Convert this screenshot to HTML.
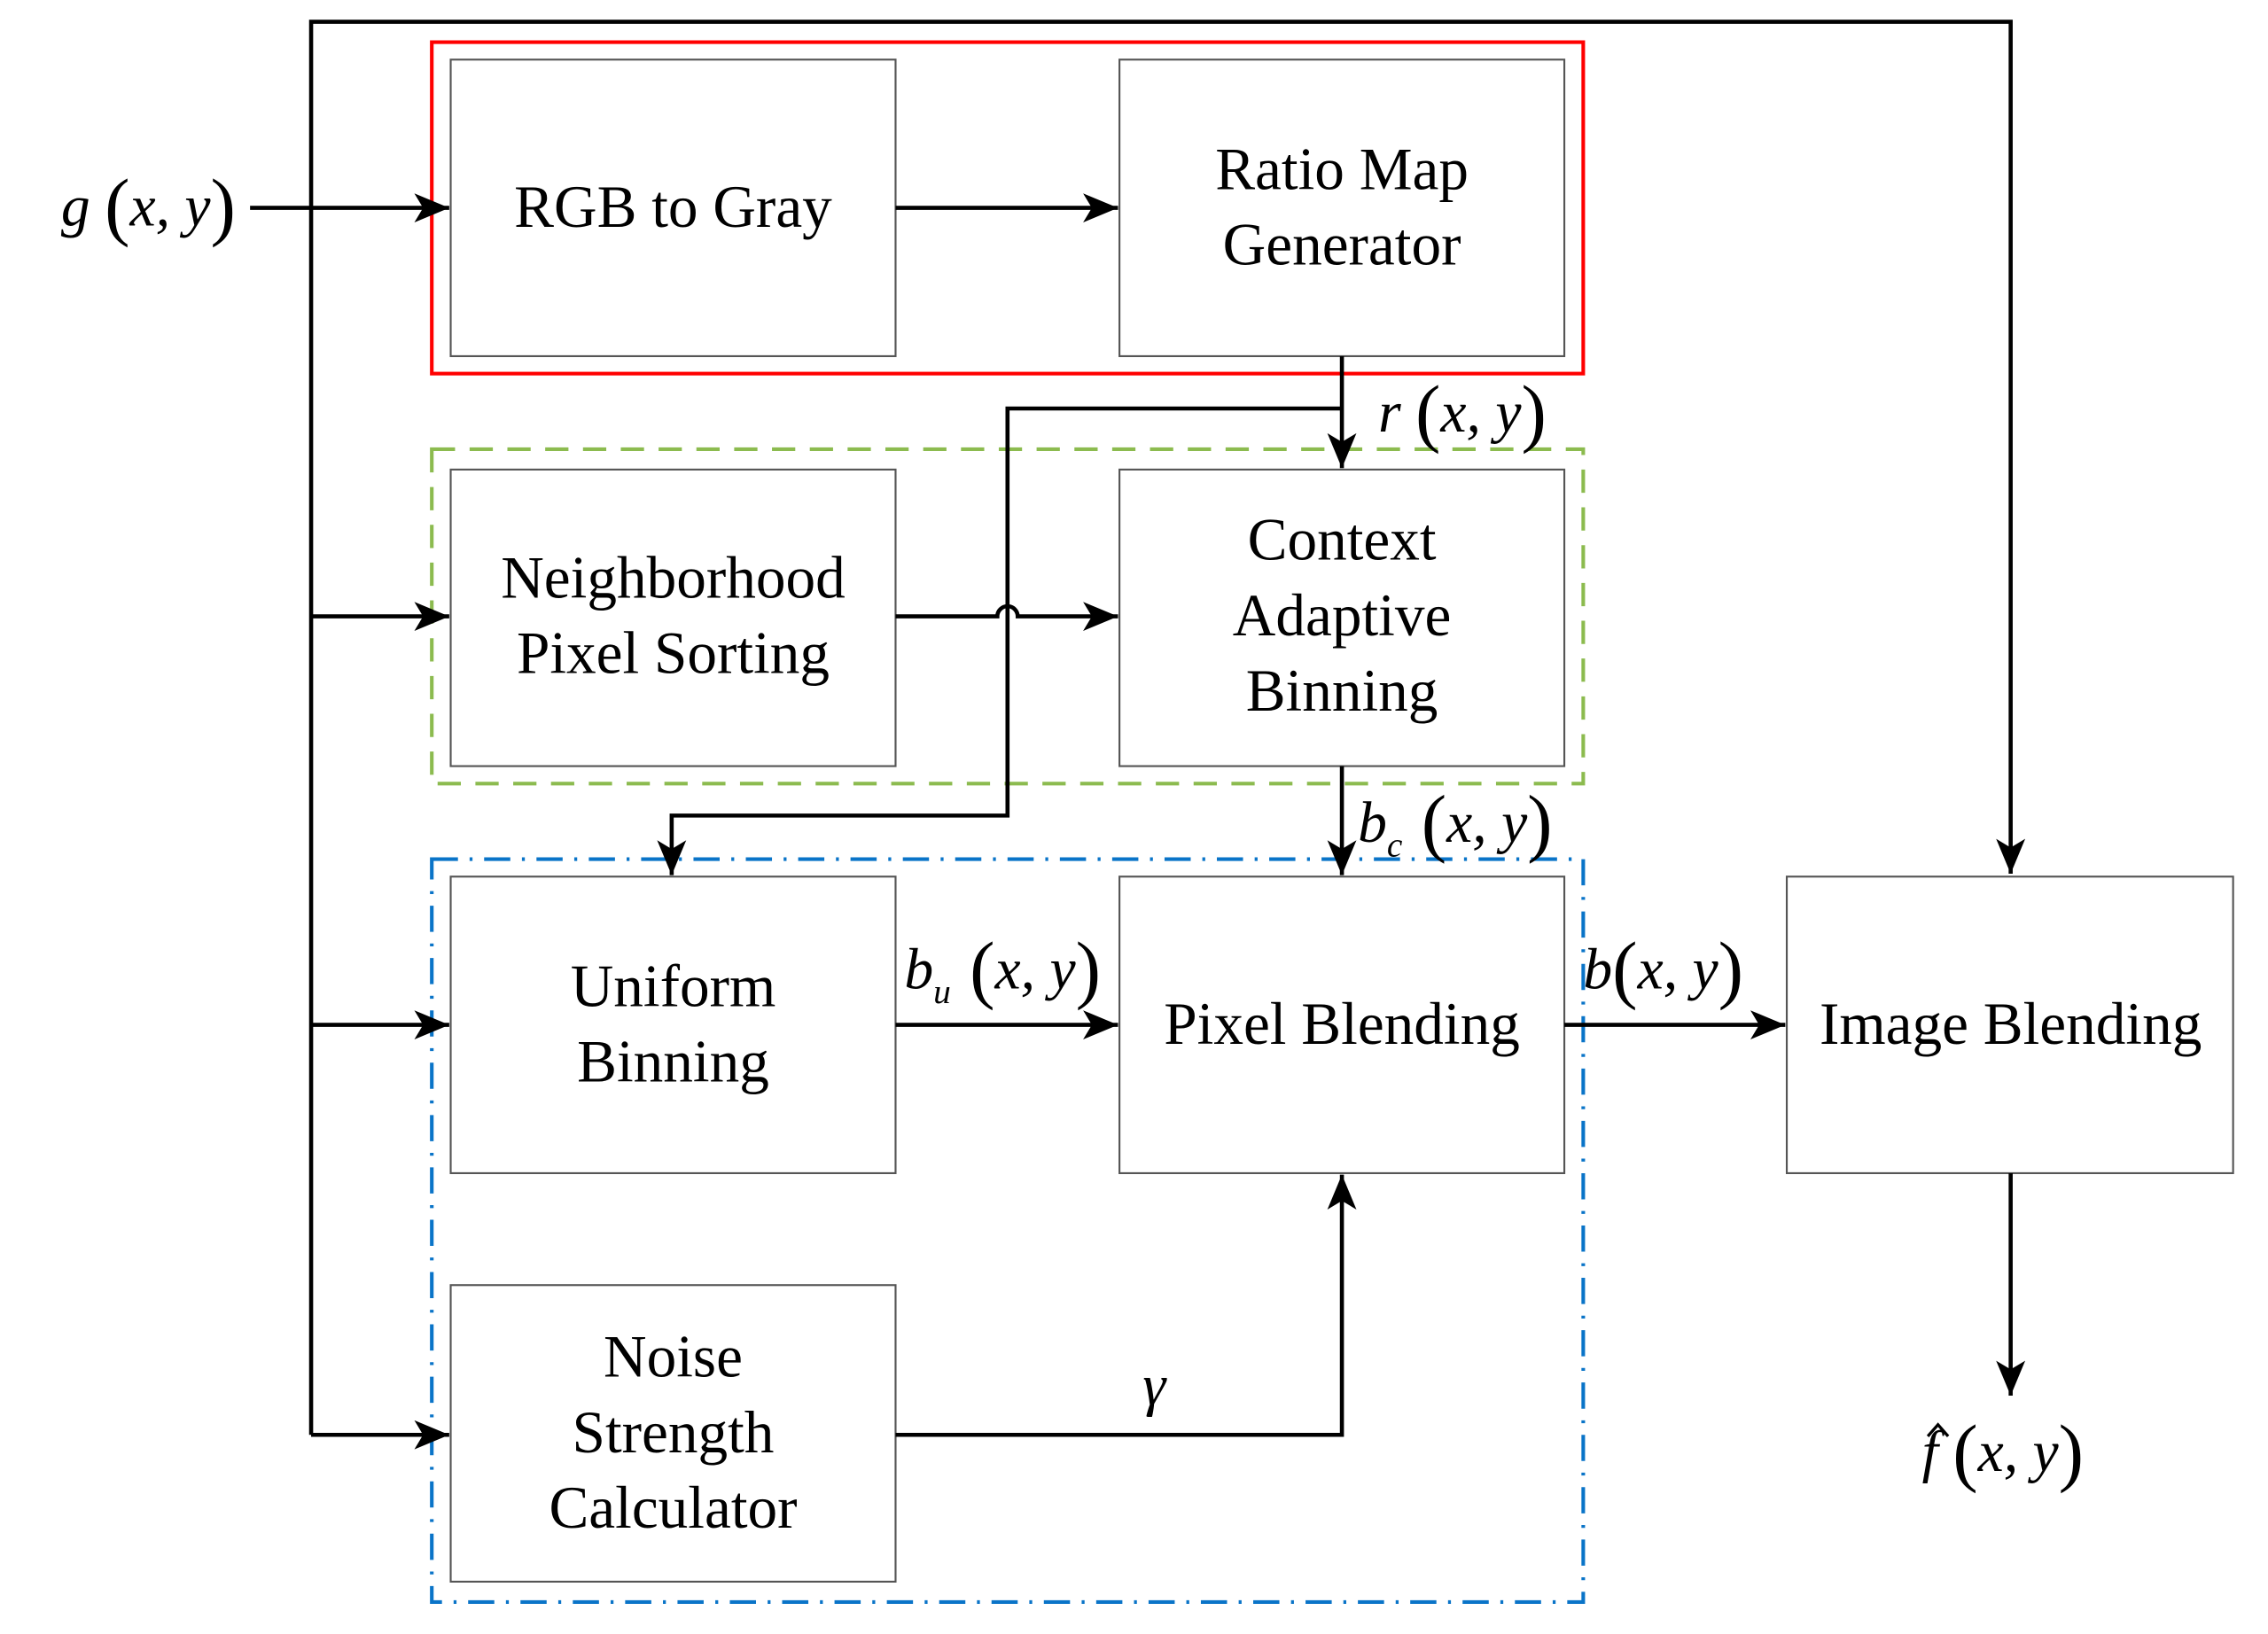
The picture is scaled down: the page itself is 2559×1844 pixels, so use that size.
<!DOCTYPE html>
<html><head><meta charset="utf-8"><style>
html,body{margin:0;padding:0;background:#fff;}
svg{display:block;}
</style></head><body>
<svg width="2559" height="1844" viewBox="0 0 1560 1124" preserveAspectRatio="none" xmlns="http://www.w3.org/2000/svg" font-family="'Liberation Serif', 'Times New Roman', serif">
<defs>
<marker id="a" viewBox="0 0 24 20" refX="24" refY="10" markerWidth="24" markerHeight="20" markerUnits="userSpaceOnUse" orient="auto">
<path d="M0,0 L24,10 L0,20 L6,10 Z" fill="#000"/>
</marker>
</defs>
<!-- group frames -->
<rect x="297" y="29" width="792" height="228" fill="none" stroke="#f00" stroke-width="2.5"/>
<rect x="297" y="309" width="792" height="230" fill="none" stroke="#8cbb4f" stroke-width="2.5" stroke-dasharray="16,10"/>
<rect x="297" y="591" width="792" height="511" fill="none" stroke="#0a74c8" stroke-width="2.5" stroke-dasharray="18,8,2,8"/>
<!-- boxes -->
<g fill="#fff" stroke="#555" stroke-width="1.3">
<rect x="310" y="41" width="306" height="204"/>
<rect x="770" y="41" width="306" height="204"/>
<rect x="310" y="323" width="306" height="204"/>
<rect x="770" y="323" width="306" height="204"/>
<rect x="310" y="603" width="306" height="204"/>
<rect x="770" y="603" width="306" height="204"/>
<rect x="1229" y="603" width="307" height="204"/>
<rect x="310" y="884" width="306" height="204"/>
</g>
<!-- connectors -->
<g fill="none" stroke="#000" stroke-width="2.8">
<polyline points="214,987 214,15 1383,15 1383,601" marker-end="url(#a)"/>
<line x1="172" y1="143" x2="309" y2="143" marker-end="url(#a)"/>
<line x1="214" y1="424" x2="309" y2="424" marker-end="url(#a)"/>
<line x1="214" y1="705" x2="309" y2="705" marker-end="url(#a)"/>
<line x1="214" y1="987" x2="309" y2="987" marker-end="url(#a)"/>
<line x1="616" y1="143" x2="769" y2="143" marker-end="url(#a)"/>
<line x1="923" y1="245" x2="923" y2="322" marker-end="url(#a)"/>
<polyline points="923,281 693,281 693,561 462,561 462,602" marker-end="url(#a)"/>
<path d="M616,424 L686,424 A7,7 0 0 1 700,424 L769,424" marker-end="url(#a)"/>
<line x1="923" y1="527" x2="923" y2="602" marker-end="url(#a)"/>
<line x1="616" y1="705" x2="769" y2="705" marker-end="url(#a)"/>
<line x1="1076" y1="705" x2="1228" y2="705" marker-end="url(#a)"/>
<polyline points="616,987 923,987 923,808" marker-end="url(#a)"/>
<line x1="1383" y1="807" x2="1383" y2="960" marker-end="url(#a)"/>
</g>
<!-- box labels -->
<g font-size="41" text-anchor="middle" fill="#000">
<text x="463" y="156">RGB to Gray</text>
<text x="923" y="130">Ratio Map</text>
<text x="923" y="182">Generator</text>
<text x="463" y="411">Neighborhood</text>
<text x="463" y="463">Pixel Sorting</text>
<text x="923" y="385">Context</text>
<text x="923" y="437">Adaptive</text>
<text x="923" y="489">Binning</text>
<text x="463" y="692">Uniform</text>
<text x="463" y="744">Binning</text>
<text x="923" y="718">Pixel Blending</text>
<text x="1383" y="718">Image Blending</text>
<text x="463" y="947">Noise</text>
<text x="463" y="999">Strength</text>
<text x="463" y="1051">Calculator</text>
</g>
<!-- math labels -->
<g font-size="40" font-style="italic" fill="#000">
<text x="42" y="155">g <tspan font-style="normal" font-size="52" dy="4">(</tspan><tspan dy="-4">x, y</tspan><tspan font-style="normal" font-size="52" dy="4">)</tspan></text>
<text x="948" y="297">r <tspan font-style="normal" font-size="52" dy="4">(</tspan><tspan dy="-4">x, y</tspan><tspan font-style="normal" font-size="52" dy="4">)</tspan></text>
<text x="934" y="579">b<tspan font-size="24" dy="10">c</tspan><tspan font-style="normal" font-size="52" dy="-6"> (</tspan><tspan dy="-4">x, y</tspan><tspan font-style="normal" font-size="52" dy="4">)</tspan></text>
<text x="622" y="680">b<tspan font-size="24" dy="10">u</tspan><tspan font-style="normal" font-size="52" dy="-6"> (</tspan><tspan dy="-4">x, y</tspan><tspan font-style="normal" font-size="52" dy="4">)</tspan></text>
<text x="1089" y="680">b<tspan font-style="normal" font-size="52" dy="4">(</tspan><tspan dy="-4">x, y</tspan><tspan font-style="normal" font-size="52" dy="4">)</tspan></text>
<text x="786" y="966">γ</text>
<text x="1322" y="1012">f <tspan font-style="normal" font-size="52" dy="4">(</tspan><tspan dy="-4">x, y</tspan><tspan font-style="normal" font-size="52" dy="4">)</tspan></text>
</g>
<path d="M1326,988 L1333,980 L1340,988" fill="none" stroke="#000" stroke-width="2"/>
</svg>
</body></html>
